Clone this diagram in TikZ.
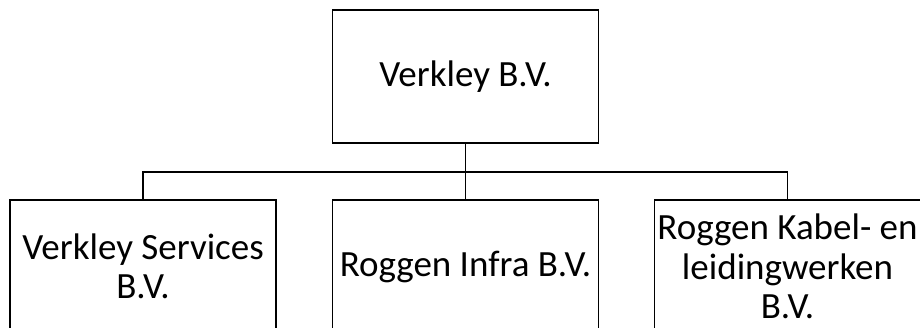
\documentclass[tikz,border=0pt]{standalone}
\usepackage{fontspec}
\setmainfont{Carlito}
\usepackage{tikz}

\begin{document}
\begin{tikzpicture}[
			x=1pt, y=-1pt,
			base/.style={draw, line width=1.6pt, align=center, minimum width=266pt, minimum height=133pt, inner sep=0pt, font=\fontsize{37}{39.5}\selectfont},
			company/.style={base},
			link/.style={line width=1.6pt},
			]

			\useasboundingbox (0,0) rectangle (920,327);

			\newcommand{\bus}{172}

			\node [company] (verkley)  at (465.5,76.5)  {Verkley B.V.};

			\node [company] (services) at (143,266.5)   {Verkley Services\\B.V.};
			\node [company] (infra)    at (465.5,266.5) {Roggen Infra B.V.};
			\node [company] (kabel)    at (787.5,266.5) {Roggen Kabel- en\\leidingwerken\\B.V.};

			\coordinate (split) at (465.5,\bus);
			\draw [link] (verkley.south) -- (split);
			\draw [link] (split) -| (services.north);
			\draw [link] (split) -- (infra.north);
			\draw [link] (split) -| (kabel.north);

		\end{tikzpicture}
\end{document}
